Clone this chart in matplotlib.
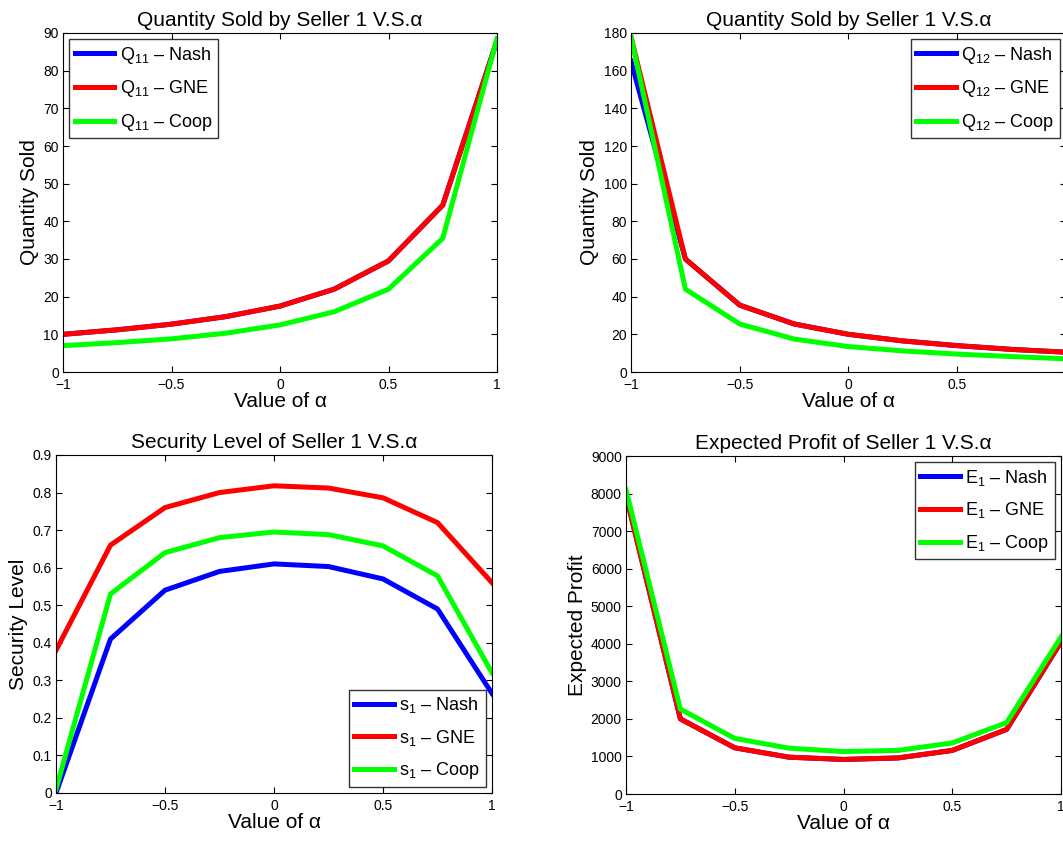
import numpy as np
import matplotlib.pyplot as plt

plt.rcParams['font.family'] = ['Liberation Sans', 'DejaVu Sans']
plt.rcParams['mathtext.fontset'] = 'custom'
plt.rcParams['mathtext.rm'] = 'Liberation Sans'

alpha = [-1, -0.75, -0.5, -0.25, 0, 0.25, 0.5, 0.75, 1]

# quantity sold on market 1
q11_nash = [10, 11.2, 12.7, 14.7, 17.5, 22, 29.5, 44.3, 88]
q11_gne = [10, 11.2, 12.7, 14.7, 17.5, 22, 29.5, 44.3, 88]
q11_coop = [7, 7.8, 8.8, 10.3, 12.5, 16, 22, 35.5, 88.5]

# quantity sold on market 2
q12_nash = [165, 60, 35.5, 25.5, 20, 16.5, 14, 12, 10.5]
q12_gne = [178, 60, 35.5, 25.5, 20, 16.5, 14, 12, 10.5]
q12_coop = [178, 44, 25.5, 17.5, 13.5, 11.2, 9.5, 8.2, 7]

# security level
s1_nash = [0, 0.41, 0.54, 0.59, 0.61, 0.603, 0.57, 0.49, 0.265]
s1_gne = [0.38, 0.66, 0.76, 0.80, 0.818, 0.812, 0.786, 0.72, 0.56]
s1_coop = [0.01, 0.53, 0.64, 0.68, 0.695, 0.688, 0.658, 0.578, 0.32]

# expected profit
e1_nash = [7950, 2000, 1230, 980, 920, 960, 1160, 1720, 4050]
e1_gne = [7950, 2000, 1230, 980, 920, 960, 1160, 1720, 4050]
e1_coop = [8100, 2260, 1480, 1220, 1130, 1160, 1360, 1900, 4180]

xtick_labels = ['−1', '−0.5', '0', '0.5', '1']

W, H = 1063, 841
fig = plt.figure(figsize=(W / 100, H / 100), dpi=100)

def box(l, r, t, b):
    return [l / W, 1 - b / H, (r - l) / W, (b - t) / H]

panels = [
    (box(63, 497, 33, 372), [q11_nash, q11_gne, q11_coop], 'Q_{11}',
     'Quantity Sold by Seller 1 V.S.α', 'Quantity Sold', (0, 90), np.arange(0, 91, 10), 'upper left'),
    (box(631, 1066, 33, 372), [q12_nash, q12_gne, q12_coop], 'Q_{12}',
     'Quantity Sold by Seller 1 V.S.α', 'Quantity Sold', (0, 180), np.arange(0, 181, 20), 'upper right'),
    (box(56, 492, 455, 793), [s1_nash, s1_gne, s1_coop], 's_1',
     'Security Level of Seller 1 V.S.α', 'Security Level', (0, 0.9), np.arange(0, 0.91, 0.1), 'lower right'),
    (box(626, 1061, 456, 794), [e1_nash, e1_gne, e1_coop], 'E_1',
     'Expected Profit of Seller 1 V.S.α', 'Expected Profit', (0, 9000), np.arange(0, 9001, 1000), 'upper right'),
]

colors = ['#0000ff', '#ff0000', '#00ff00']
names = ['Nash', 'GNE', 'Coop']

for i, (rect, series, sym, title, ylab, ylim, yt, loc) in enumerate(panels):
    ax = fig.add_axes(rect)
    for ys, c, n in zip(series, colors, names):
        ax.plot(alpha, ys, color=c, lw=3.6, label=r'$\mathregular{' + sym + '}$ – ' + n)
    ax.set_xlim(-1, 1)
    ax.set_ylim(*ylim)
    ax.set_xticks([-1, -0.5, 0, 0.5, 1])
    labels = list(xtick_labels)
    if i == 1:
        labels[-1] = ''  # falls outside the picture in the original
    ax.set_xticklabels(labels)
    ax.set_yticks(yt)
    if ylim[1] < 1:
        ax.set_yticklabels(['0'] + ['%.1f' % v for v in yt[1:]])
    ax.tick_params(direction='in', top=True, right=True, labelsize=10, length=4)
    ax.tick_params(axis='x', pad=4.5)
    ax.tick_params(axis='y', pad=3)
    ax.set_title(title, fontsize=15, pad=5)
    ax.set_xlabel('Value of α', fontsize=15, labelpad=0)
    ax.set_ylabel(ylab, fontsize=15, labelpad=3)
    leg = ax.legend(loc=loc, fontsize=13, fancybox=False, edgecolor='black',
                    handlelength=2.2, borderaxespad=0.35, labelspacing=0.7,
                    handletextpad=0.3, borderpad=0.3)
    leg.get_frame().set_linewidth(1.0)

fig.savefig('out.png', dpi=100)
